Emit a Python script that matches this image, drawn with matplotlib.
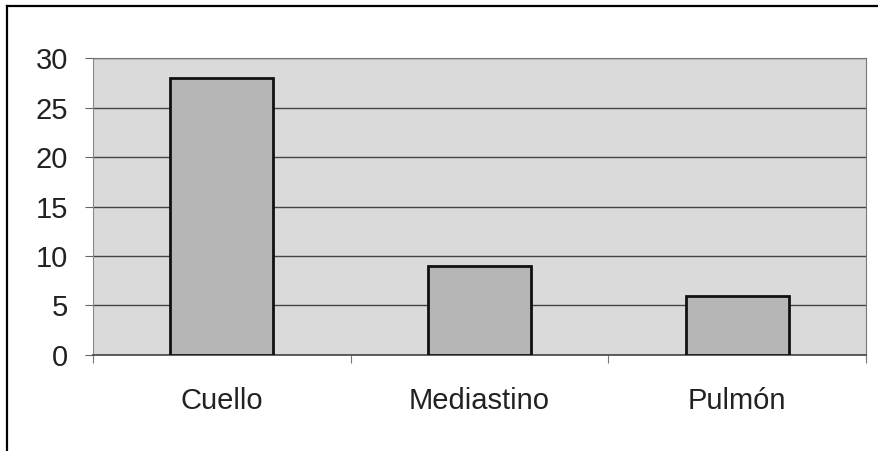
import matplotlib
matplotlib.use('Agg')
import matplotlib.pyplot as plt
from matplotlib.lines import Line2D

plt.rcParams['font.family'] = ['Liberation Sans', 'DejaVu Sans']

categorias = ['Cuello', 'Mediastino', 'Pulmón']
valores = [28, 9, 6]
ticks_y = [0, 5, 10, 15, 20, 25, 30]

fig = plt.figure(figsize=(8.79, 4.51), dpi=100)
ax = fig.add_axes([0.106, 0.213, 0.879, 0.658])
ax.set_facecolor('#dadada')

x = range(len(categorias))
ax.bar(x, valores, width=0.4, color='#b6b6b6', edgecolor='#111111', linewidth=2, zorder=3)

ax.set_ylim(0, 30)
ax.set_xlim(-0.5, len(categorias) - 0.5)
ax.set_yticks(ticks_y)
ax.set_yticklabels([str(t) for t in ticks_y], fontsize=21, color='#222222')
ax.set_xticks(list(x))
ax.set_xticklabels(categorias, fontsize=21, color='#222222')
# marcas entre categorias, como en Excel
ax.set_xticks([i - 0.5 for i in range(len(categorias) + 1)], minor=True)
ax.tick_params(axis='x', which='major', length=0, pad=23)
ax.tick_params(axis='x', which='minor', length=6, width=0.8, color='#777777')
ax.tick_params(axis='y', length=6, width=0.8, color='#666666', pad=12)

ax.yaxis.grid(True, color='#444444', linewidth=1.0, zorder=1)
ax.set_axisbelow(True)
for s in ['top', 'right']:
    ax.spines[s].set_color('#777777')
    ax.spines[s].set_linewidth(0.8)
ax.spines['left'].set_color('#888888')
ax.spines['bottom'].set_color('#444444')
ax.spines['bottom'].set_linewidth(1.2)

# marco exterior (solo izquierda y arriba visibles en la imagen)
fig.add_artist(Line2D([0.008, 0.008], [0.0, 0.986], color='black', lw=1.6))
fig.add_artist(Line2D([0.008, 1.0], [0.986, 0.986], color='black', lw=1.6))

fig.savefig('out.png', dpi=100)
